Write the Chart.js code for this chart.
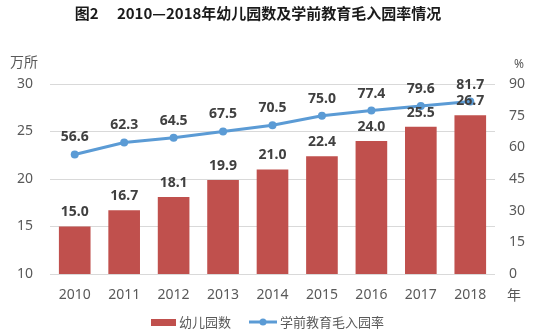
<!DOCTYPE html>
<html lang="zh">
<head>
<meta charset="UTF-8">
<title>幼儿园数及学前教育毛入园率</title>
<script src="https://cdn.jsdelivr.net/npm/chart.js@4.4.0/dist/chart.umd.min.js"></script>
<style>
  body { margin: 0; background: #fff; }
  #wrap { width: 539px; height: 335px; }
</style>
</head>
<body>
<div id="wrap"><canvas id="myChart" width="539" height="335"></canvas></div>
<script>
// 数据
var years = ['2010', '2011', '2012', '2013', '2014', '2015', '2016', '2017', '2018'];
var kindergartens = [15.0, 16.7, 18.1, 19.9, 21.0, 22.4, 24.0, 25.5, 26.7];   // 万所
var enrollRate = [56.6, 62.3, 64.5, 67.5, 70.5, 75.0, 77.4, 79.6, 81.7];      // %
var leftTicks = [10, 15, 20, 25, 30];
var rightTicks = [0, 15, 30, 45, 60, 75, 90];

var barColor = '#C0504D';
var lineColor = '#5B9BD5';
var cjk = '"Noto Sans CJK SC", "Noto Sans", sans-serif';
var numFont = '"Noto Sans", sans-serif';

// 数据标签、标题、单位、图例
var extras = {
  id: 'extras',
  afterDatasetsDraw: function(chart) {
    var ctx = chart.ctx;
    ctx.save();
    ctx.textAlign = 'center';
    ctx.textBaseline = 'middle';
    ctx.fillStyle = '#404040';
    ctx.font = 'bold 14px ' + numFont;
    chart.getDatasetMeta(0).data.forEach(function(bar, i) {
      ctx.fillText(kindergartens[i].toFixed(1), bar.x, bar.y - 14);
    });
    chart.getDatasetMeta(1).data.forEach(function(pt, i) {
      ctx.fillText(enrollRate[i].toFixed(1), pt.x, pt.y - 17);
    });

    // 标题
    ctx.fillStyle = '#1a1a1a';
    ctx.font = 'bold 15px ' + cjk;
    ctx.fillText('图2\u3000 2010—2018年幼儿园数及学前教育毛入园率情况', 258, 13);

    // 单位
    ctx.fillStyle = '#595959';
    ctx.font = '14px ' + cjk;
    ctx.fillText('万所', 24, 62);
    ctx.font = '12px ' + numFont;
    ctx.fillText('%', 519, 65);
    ctx.font = '14px ' + cjk;
    ctx.fillText('年', 514, 295);

    // 图例
    ctx.fillStyle = barColor;
    ctx.fillRect(151, 319, 25, 7);
    ctx.fillStyle = '#595959';
    ctx.font = '13px ' + cjk;
    ctx.textAlign = 'left';
    ctx.fillText('幼儿园数', 179, 322);
    ctx.strokeStyle = lineColor;
    ctx.lineWidth = 3;
    ctx.beginPath();
    ctx.moveTo(249, 322);
    ctx.lineTo(277, 322);
    ctx.stroke();
    ctx.fillStyle = lineColor;
    ctx.beginPath();
    ctx.arc(263, 322, 3.5, 0, Math.PI * 2);
    ctx.fill();
    ctx.fillStyle = '#595959';
    ctx.fillText('学前教育毛入园率', 280, 322);
    ctx.restore();
  }
};

new Chart(document.getElementById('myChart'), {
  type: 'bar',
  data: {
    labels: years,
    datasets: [
      {
        label: '幼儿园数',
        data: kindergartens,
        backgroundColor: barColor,
        yAxisID: 'y',
        categoryPercentage: 0.64,
        barPercentage: 1.0,
        order: 2
      },
      {
        type: 'line',
        label: '学前教育毛入园率',
        data: enrollRate,
        borderColor: lineColor,
        backgroundColor: lineColor,
        borderWidth: 3,
        pointRadius: 4,
        pointBorderWidth: 0,
        yAxisID: 'y1',
        order: 1
      }
    ]
  },
  options: {
    responsive: false,
    animation: false,
    layout: { padding: { top: 84 } },
    plugins: {
      legend: { display: false },
      title: { display: false },
      tooltip: { enabled: false }
    },
    scales: {
      x: {
        grid: { display: false, drawTicks: false },
        border: { display: false },
        ticks: { color: '#595959', font: { size: 14, family: numFont }, padding: 13 },
        afterFit: function(scale) { scale.height = 61; }
      },
      y: {
        position: 'left',
        min: 10, max: 30,
        afterBuildTicks: function(scale) { scale.ticks = leftTicks.map(function(v) { return { value: v }; }); },
        grid: { color: '#d9d9d9', drawTicks: false },
        border: { display: false },
        ticks: { color: '#595959', font: { size: 14, family: numFont }, padding: 17 },
        afterFit: function(scale) { scale.width = 50; }
      },
      y1: {
        position: 'right',
        min: 0, max: 90,
        afterBuildTicks: function(scale) { scale.ticks = rightTicks.map(function(v) { return { value: v }; }); },
        grid: { display: false, drawTicks: false },
        border: { display: false },
        ticks: { color: '#595959', font: { size: 14, family: numFont }, padding: 14 },
        afterFit: function(scale) { scale.width = 44; }
      }
    }
  },
  plugins: [extras]
});
</script>
</body>
</html>
